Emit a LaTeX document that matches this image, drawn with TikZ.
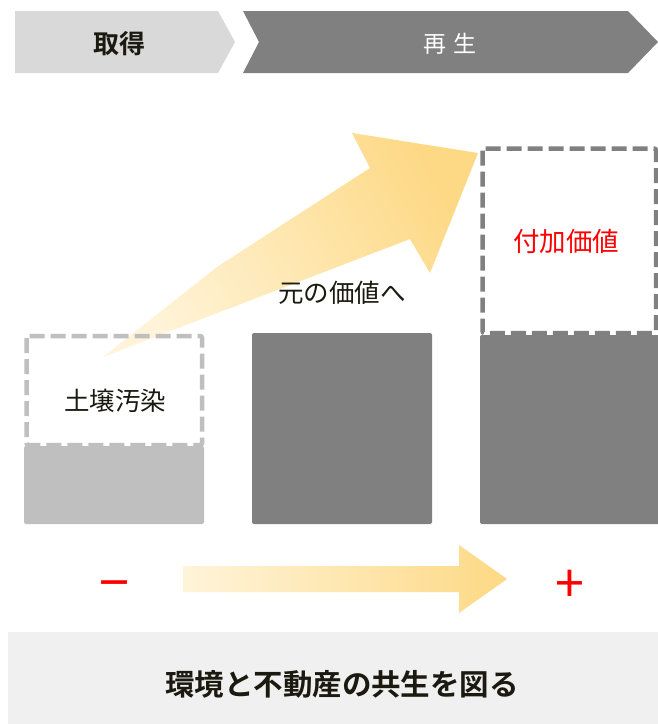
\documentclass[tikz,border=0pt]{standalone}
\usepackage{fontspec}
\newfontfamily\jp{Noto Sans CJK JP}
\newfontfamily\jpb{Noto Sans CJK JP Bold}
\usetikzlibrary{shadings}
\definecolor{lightchev}{HTML}{D9D9D9}
\definecolor{darkgray}{HTML}{808080}
\definecolor{lightgray}{HTML}{BFBFBF}
\definecolor{gradA}{HTML}{FFF4DA}
\definecolor{gradB}{HTML}{FDD985}
\definecolor{band}{HTML}{F0F0F0}
\definecolor{ink}{HTML}{1A1A10}
\tikzset{
  txt/.style={inner sep=0pt, text=ink},
  dashbox/.style={line width=4.5pt, dash pattern=on 15pt off 6pt, rounded corners=2pt},
}
\begin{document}
\begin{tikzpicture}[x=1pt,y=-1pt]
\useasboundingbox (0,0) rectangle (658,724);
\fill[white] (0,0) rectangle (658,724);
% chevrons
\fill[lightchev] (15,11) -- (218,11) -- (235,42) -- (218,73) -- (15,73) -- cycle;
\fill[darkgray] (243,11) -- (628,11) -- (658,42) -- (628,73) -- (243,73) -- (259,42) -- cycle;
\node[txt] (acq) at (119,44) {\jpb\fontsize{26}{26}\selectfont 取得};
\node[txt,text=white] (regen) at (450,44) {\jp\fontsize{23}{23}\selectfont 再\hspace{7pt}生};
% big diagonal arrow
\shade[left color=gradA, right color=gradB, shading angle=118.5]
  (103,357) -- (217,267) -- (370,168) -- (352,133) -- (478,153) -- (430,273) -- (410,239) -- cycle;
\node[txt] (orig) at (342,293) {\jp\fontsize{25.5}{25.5}\selectfont 元の価値へ};
% left box
\fill[lightgray, rounded corners=2pt] (24,446) rectangle (204,524);
\draw[lightgray, dashbox] (26.5,336) rectangle (202,445);
\node[txt] (soil) at (115,401) {\jp\fontsize{25.5}{25.5}\selectfont 土壌汚染};
% middle box
\fill[darkgray, rounded corners=2pt] (252,333) rectangle (432,524);
% right box
\fill[darkgray, rounded corners=2pt] (480,335) rectangle (660,524);
\draw[darkgray, dashbox] (482.5,148.5) rectangle (656,333);
\node[txt,text=red] (added) at (566,241) {\jp\fontsize{26.5}{26.5}\selectfont 付加価値};
% bottom arrow
\shade[left color=gradA, right color=gradB]
  (183,566) -- (459,566) -- (459,545) -- (507,579) -- (459,613) -- (459,592) -- (183,592) -- cycle;
\node[txt,text=red] (minus) at (114,592) {\jp\fontsize{54}{54}\selectfont −};
\node[txt,text=red] (plus) at (570,586) {\jp\fontsize{52}{52}\selectfont +};
% bottom band
\fill[band] (8,632) rectangle (658,724);
\node[txt] (motto) at (342,684) {\jpb\fontsize{29.5}{29.5}\selectfont 環境と不動産の共生を図る};
\end{tikzpicture}
\end{document}
